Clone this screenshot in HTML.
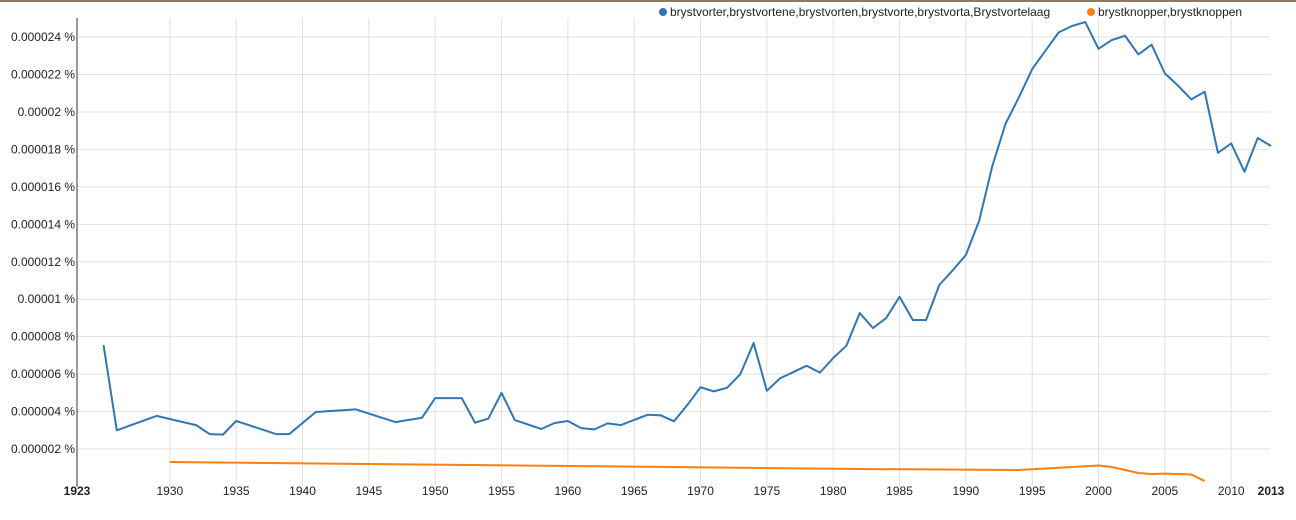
<!DOCTYPE html>
<html><head><meta charset="utf-8"><style>
body{margin:0;background:#fff;font-family:"Liberation Sans",Arial,sans-serif}
svg text{font-family:"Liberation Sans",Arial,sans-serif;font-size:12px;fill:#222}
</style></head><body>
<svg id="chart" width="1296" height="515" xmlns="http://www.w3.org/2000/svg">
<rect x="0" y="0" width="1296" height="2" fill="#8c7b5e"/>
<g id="grid"></g><g id="axes"></g><g id="series"></g>
<g>
<circle cx="663" cy="12" r="4" fill="#3077b5"/>
<text x="670" y="16">brystvorter,brystvortene,brystvorten,brystvorte,brystvorta,Brystvortelaag</text>
<circle cx="1091" cy="12" r="4" fill="#ff7f0e"/>
<text x="1098" y="16">brystknopper,brystknoppen</text>
</g>
</svg>
<script>
const blueYears=[1925,1926,1929,1932,1933,1934,1935,1938,1939,1941,1944,1947,1949,1950,1952,1953,1954,1955,1956,1958,1959,1960,1961,1962,1963,1964,1966,1967,1968,1969,1970,1971,1972,1973,1974,1975,1976,1977,1978,1979,1980,1981,1982,1983,1984,1985,1986,1987,1988,1989,1990,1991,1992,1993,1994,1995,1996,1997,1998,1999,2000,2001,2002,2003,2004,2005,2006,2007,2008,2009,2010,2011,2012,2013];
const blueValues=[7.55,3.0,3.77,3.27,2.8,2.77,3.5,2.8,2.8,3.98,4.12,3.44,3.67,4.72,4.72,3.41,3.62,5.0,3.55,3.07,3.39,3.5,3.12,3.05,3.37,3.28,3.83,3.8,3.48,4.35,5.3,5.08,5.27,6.0,7.66,5.11,5.78,6.11,6.45,6.08,6.86,7.52,9.26,8.46,9.0,10.13,8.89,8.89,10.76,11.54,12.36,14.19,17.13,19.39,20.78,22.29,23.27,24.25,24.59,24.8,23.37,23.84,24.07,23.07,23.59,22.06,21.4,20.67,21.08,17.82,18.32,16.81,18.61,18.18];
const orangeYears=[1930,1983,1994,2000,2001,2003,2004,2005,2007,2008];
const orangeValues=[1.31,0.93,0.88,1.12,1.04,0.72,0.67,0.69,0.64,0.29];
const yTicks=[2,4,6,8,10,12,14,16,18,20,22,24];
const yTickLabels=["0.000002 %","0.000004 %","0.000006 %","0.000008 %","0.00001 %","0.000012 %","0.000014 %","0.000016 %","0.000018 %","0.00002 %","0.000022 %","0.000024 %"];
const xTicks=[1930,1935,1940,1945,1950,1955,1960,1965,1970,1975,1980,1985,1990,1995,2000,2005,2010];
const NS="http://www.w3.org/2000/svg";
const X=y=>77+(y-1923)*(1194/90);
const Y=v=>486.5-v*18.727;
function mk(t,a,p){const e=document.createElementNS(NS,t);for(const k in a)e.setAttribute(k,a[k]);p.appendChild(e);return e;}
const grid=document.getElementById('grid'),axes=document.getElementById('axes'),ser=document.getElementById('series');
yTicks.forEach((v,i)=>{
 const l=mk('line',{x1:77,x2:1270,y1:Y(v),y2:Y(v),stroke:'#e2e2e2'},grid);
 
 
 const t=mk('text',{x:75,y:Y(v)+4,'text-anchor':'end'},axes);t.textContent=yTickLabels[i];
 
 
});
xTicks.forEach(y=>{
 const l=mk('line',{x1:X(y),x2:X(y),y1:18,y2:487,stroke:'#e2e2e2'},grid);
 
 
 const t=mk('text',{x:X(y),y:495,'text-anchor':'middle'},axes);t.textContent=y;
 
 
});
[[1923,'x-label-start'],[2013,'x-label-end']].forEach(([y,n])=>{
 const t=mk('text',{x:X(y),y:495,'text-anchor':'middle','font-weight':'bold',fill:'#000'},axes);t.textContent=y;
 
 
});
const ya=mk('line',{x1:77,x2:77,y1:18,y2:487,stroke:'#333'},axes);


function line(xs,vs,c,n){
 const p=mk('polyline',{points:xs.map((y,i)=>X(y)+','+Y(vs[i])).join(' '),fill:'none',stroke:c,'stroke-width':2,'stroke-linejoin':'round'},ser);
 
 
}
line(blueYears,blueValues,'#3077b5','series-brystvorter-line');
line(orangeYears,orangeValues,'#ff7f0e','series-brystknopper-line');
</script>
</body></html>
